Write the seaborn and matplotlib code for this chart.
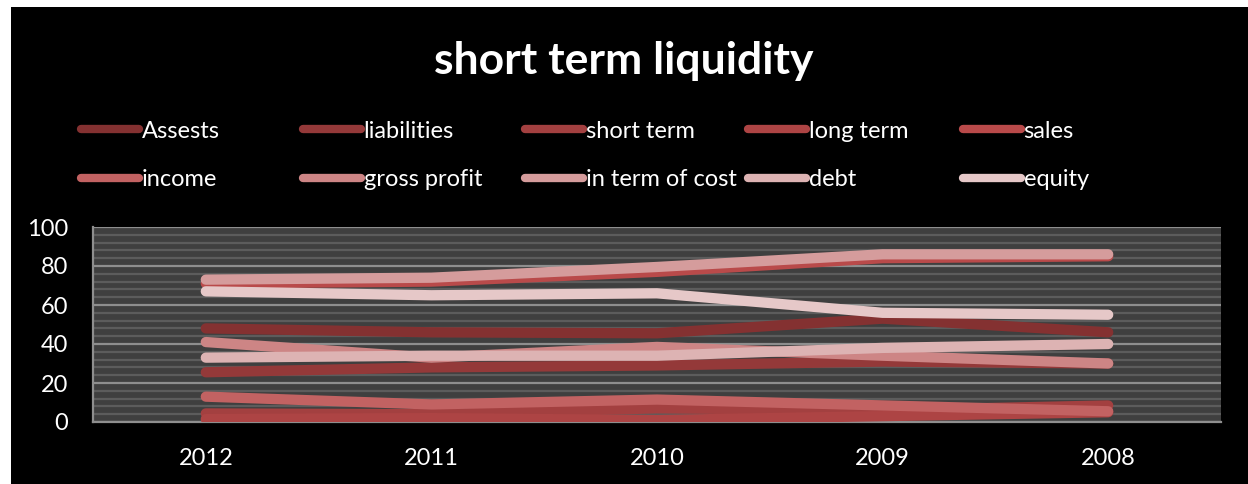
import matplotlib
matplotlib.use("Agg")
import matplotlib.pyplot as plt
import seaborn as sns
import pandas as pd
from matplotlib.lines import Line2D
from matplotlib.patches import Rectangle

years = ["2012", "2011", "2010", "2009", "2008"]
series_names = ["Assests", "liabilities", "short term", "long term", "sales",
                "income", "gross profit", "in term of cost", "debt", "equity"]
assests = [48, 46, 45.5, 53, 46]
liabilities = [25.5, 28, 29, 31, 30]
short_term = [4.4, 4, 7, 6, 8.5]
long_term = [1.5, 2, 1, 3, 5]
sales = [71, 72, 77, 84, 85]
income = [13, 9, 11.5, 8.5, 5.5]
gross_profit = [41, 33, 38.5, 34, 30]
in_term_of_cost = [73, 74, 79.5, 86, 86]
debt = [33, 34, 34, 38, 40]
equity = [67, 65, 66, 56, 55]
y_ticks = [0, 20, 40, 60, 80, 100]

values = [assests, liabilities, short_term, long_term, sales,
          income, gross_profit, in_term_of_cost, debt, equity]
colors = ["#843131", "#943939", "#a34040", "#ad4444", "#b94a4a",
          "#c26262", "#cd8585", "#d59c9c", "#ddb3b3", "#e6c8c8"]

rows = []
for name, vals in zip(series_names, values):
    for yr, v in zip(years, vals):
        rows.append({"year": yr, "value": v, "series": name})
df = pd.DataFrame(rows)

sns.set_theme(style="dark")
plt.rcParams["font.family"] = ["Lato", "DejaVu Sans"]

W, H = 1248, 484
fig = plt.figure(figsize=(W / 100, H / 100), dpi=100)
fig.patch.set_facecolor("black")
fig.patch.set_edgecolor("none")
fig.patch.set_linewidth(0)
fig.patches.append(Rectangle((0, 1 - 7 / H), 1, 7 / H, transform=fig.transFigure,
                             facecolor="white", edgecolor="none", zorder=-1))
fig.patches.append(Rectangle((0, 0), 11 / W, 1, transform=fig.transFigure,
                             facecolor="white", edgecolor="none", zorder=-1))

ax = fig.add_axes([93 / W, 1 - 422 / H, (1221 - 93) / W, (422 - 227) / H])
ax.set_facecolor("#3f3f3f")

palette = dict(zip(series_names, colors))
sns.lineplot(data=df, x="year", y="value", hue="series", hue_order=series_names,
             palette=palette, sort=False, linewidth=7.4, ax=ax, legend=False,
             solid_capstyle="round", solid_joinstyle="round", zorder=3)

ax.set_xlim(-0.5, 4.5)
ax.set_ylim(0, 100)
ax.set_yticks(y_ticks)
ax.set_yticks([v for v in range(0, 101, 4) if v % 20 != 0], minor=True)
ax.grid(False)
ax.yaxis.grid(True, which="minor", color="#5c5c5c", linewidth=1.6, zorder=0)
ax.yaxis.grid(True, which="major", color="#8e8e8e", linewidth=1.6, zorder=1)
ax.xaxis.grid(False)
ax.set_axisbelow(True)
for s in ["top", "right"]:
    ax.spines[s].set_visible(False)
ax.spines["left"].set_color("#8e8e8e")
ax.spines["left"].set_linewidth(1.6)
ax.spines["bottom"].set_color("#8e8e8e")
ax.spines["bottom"].set_linewidth(1.6)
ax.tick_params(axis="both", colors="white", labelsize=17, length=0)
ax.tick_params(axis="x", pad=19)
ax.tick_params(axis="y", pad=18)
ax.set_xlabel("")
ax.set_ylabel("")

fig.text(0.5, 1 - 61 / H, "short term liquidity", color="white", fontsize=32,
         fontweight="bold", ha="center", va="center")

handles = [Line2D([0], [0], color=c, linewidth=6, solid_capstyle="round")
           for c in colors]
col_x = [78, 300, 522, 745, 960]
fs = 17
for i in range(5):
    leg = fig.legend(handles=[handles[i], handles[i + 5]],
                     labels=[series_names[i], series_names[i + 5]],
                     loc="center left", bbox_to_anchor=((col_x[i] + 3) / W, 1 - 155.5 / H),
                     frameon=False, fontsize=fs, handlelength=2.45, handletextpad=0.12,
                     borderpad=0, borderaxespad=0, labelspacing=1.18, labelcolor="white")

fig.savefig("out.png", dpi=100, facecolor=fig.get_facecolor())
